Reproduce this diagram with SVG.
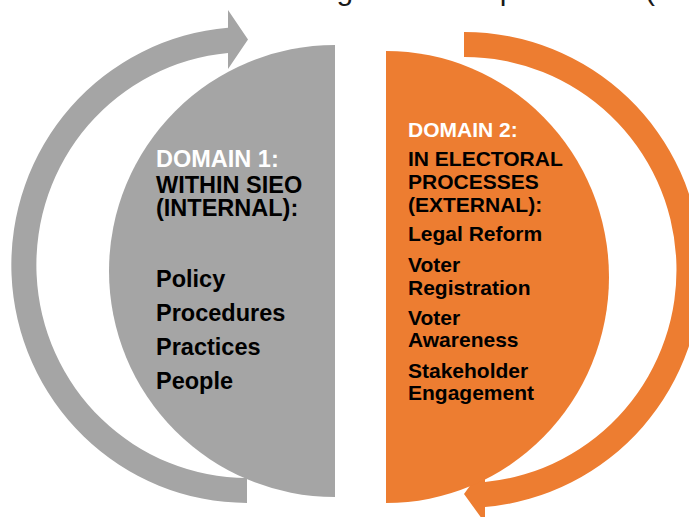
<svg xmlns="http://www.w3.org/2000/svg" width="689" height="517" viewBox="0 0 689 517">
  <style>
    .gray { fill: #A5A5A5; }
    .orange { fill: #ED7D31; }
    .t1 { font-family: "Liberation Sans", Arial, sans-serif; font-weight: bold; font-size: 23.5px; fill: #000000; }
    .t2 { font-family: "Liberation Sans", Arial, sans-serif; font-weight: bold; font-size: 21px; fill: #000000; }
    .white { fill: #FFFFFF; }
    .top { font-family: "Liberation Sans", Arial, sans-serif; font-size: 30px; fill: #1a1a1a; }
  </style>
  <rect width="689" height="517" fill="#FFFFFF"/>
  <text class="top" x="268" y="-0.5">through electoral processes (e</text>

  <g id="connectors">
    <path id="arrow-gray" class="gray" d="M 247 503 A 236 238 0 0 1 228 27.8 L 228 10 L 248 39.5 L 228 69 L 228 52.9 A 211 213 0 0 0 247 478 Z"/>
    <path id="arrow-orange" class="orange" d="M 464 32 A 237 238 0 0 1 485 507.1 L 485 523 L 464 494 L 485 465 L 485 482 A 212 213 0 0 0 464 57 Z"/>
  </g>

  <g id="domain1">
    <path class="gray" d="M 335 45 A 226 226 0 0 0 335 497 Z"/>
    <text class="t1 white" x="156" y="166.5">DOMAIN 1:</text>
    <text class="t1" x="156" y="192.5">WITHIN SIEO</text>
    <text class="t1" x="156" y="216">(INTERNAL):</text>
    <text class="t1" x="156" y="286.5">Policy</text>
    <text class="t1" x="156" y="320.5">Procedures</text>
    <text class="t1" x="156" y="354.5">Practices</text>
    <text class="t1" x="156" y="388.5">People</text>
  </g>

  <g id="domain2">
    <path class="orange" d="M 386 51 A 223 226 0 0 1 386 503 Z"/>
    <text class="t2 white" x="408" y="136.5">DOMAIN 2:</text>
    <text class="t2" x="408" y="166">IN ELECTORAL</text>
    <text class="t2" x="408" y="189">PROCESSES</text>
    <text class="t2" x="408" y="211.5">(EXTERNAL):</text>
    <text class="t2" x="408" y="241">Legal Reform</text>
    <text class="t2" x="408" y="272">Voter</text>
    <text class="t2" x="408" y="295">Registration</text>
    <text class="t2" x="408" y="325">Voter</text>
    <text class="t2" x="408" y="347">Awareness</text>
    <text class="t2" x="408" y="378">Stakeholder</text>
    <text class="t2" x="408" y="400">Engagement</text>
  </g>
</svg>
